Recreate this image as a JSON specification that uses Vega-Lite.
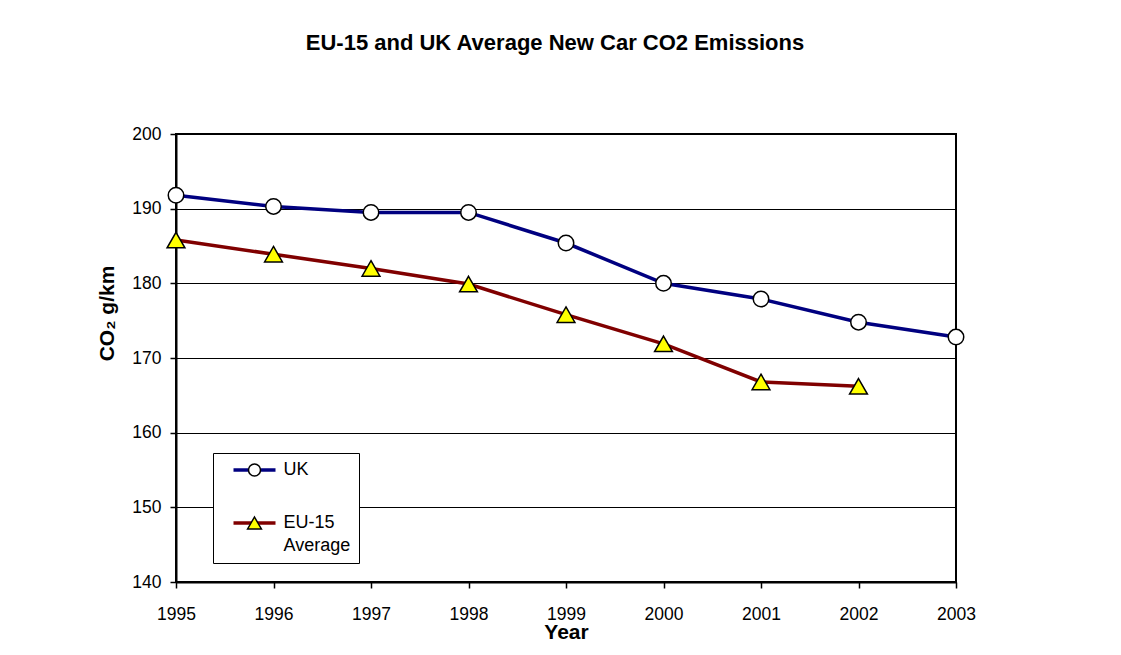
{
  "$schema": "https://vega.github.io/schema/vega-lite/v6.json",
  "autosize": {"type": "none"},
  "width": 780,
  "height": 448,
  "padding": {"left": 176, "top": 134, "right": 165, "bottom": 73},
  "background": "white",
  "config": {
    "font": "Liberation Sans",
    "view": {"stroke": "black", "strokeWidth": 2},
    "axis": {
      "domainColor": "black", "domainWidth": 2,
      "tickColor": "black", "tickWidth": 1.5, "tickSize": 6,
      "labelColor": "black", "labelFont": "Liberation Sans", "labelFontSize": 17.5,
      "titleColor": "black", "titleFont": "Liberation Sans", "titleFontSize": 21, "titleFontWeight": "bold"
    },
    "legend": {"labelFont": "Liberation Sans", "labelColor": "black"}
  },
  "title": {
    "text": "EU-15 and UK Average New Car CO2 Emissions",
    "font": "Liberation Sans", "fontSize": 22, "fontWeight": "bold", "color": "black",
    "anchor": "middle", "frame": "group", "baseline": "alphabetic", "offset": 53, "dx": -11
  },
  "data": {
    "values": [
      {"year": 1995, "co2": 191.8, "series": "UK"},
      {"year": 1996, "co2": 190.3, "series": "UK"},
      {"year": 1997, "co2": 189.5, "series": "UK"},
      {"year": 1998, "co2": 189.5, "series": "UK"},
      {"year": 1999, "co2": 185.4, "series": "UK"},
      {"year": 2000, "co2": 180.0, "series": "UK"},
      {"year": 2001, "co2": 177.9, "series": "UK"},
      {"year": 2002, "co2": 174.8, "series": "UK"},
      {"year": 2003, "co2": 172.8, "series": "UK"},
      {"year": 1995, "co2": 185.8, "series": "EU-15 Average"},
      {"year": 1996, "co2": 183.9, "series": "EU-15 Average"},
      {"year": 1997, "co2": 182.0, "series": "EU-15 Average"},
      {"year": 1998, "co2": 179.9, "series": "EU-15 Average"},
      {"year": 1999, "co2": 175.8, "series": "EU-15 Average"},
      {"year": 2000, "co2": 171.9, "series": "EU-15 Average"},
      {"year": 2001, "co2": 166.8, "series": "EU-15 Average"},
      {"year": 2002, "co2": 166.2, "series": "EU-15 Average"}
    ]
  },
  "encoding": {
    "x": {
      "field": "year", "type": "quantitative",
      "scale": {"domain": [1995, 2003], "nice": false, "zero": false},
      "axis": {
        "values": [1995, 1996, 1997, 1998, 1999, 2000, 2001, 2002, 2003],
        "format": "d", "grid": false, "labelPadding": 17.5, "labelFlush": false,
        "title": "Year", "titleBaseline": "alphabetic", "titleY": 56
      }
    },
    "y": {
      "field": "co2", "type": "quantitative",
      "scale": {"domain": [140, 200], "nice": false, "zero": false},
      "axis": {
        "values": [140, 150, 160, 170, 180, 190, 200],
        "grid": true, "gridColor": "black", "gridWidth": 1, "gridOpacity": 1,
        "labelPadding": 9,
        "title": "CO₂ g/km", "titleAngle": 270, "titleBaseline": "alphabetic", "titleAlign": "center",
        "titleX": -63, "titleY": 179
      }
    }
  },
  "layer": [
    {
      "mark": {"type": "line", "strokeWidth": 3.5},
      "encoding": {
        "color": {
          "field": "series", "type": "nominal", "sort": "descending",
          "scale": {"range": ["#000080", "#800000"]},
          "legend": {
            "orient": "none", "legendX": 37, "legendY": 319, "title": null,
            "symbolType": "M-3,0L3,0", "symbolSize": 196, "symbolStrokeWidth": 3.5,
            "labelFontSize": 18, "labelExpr": "datum.value == 'UK' ? 'UK' : ['EU-15', 'Average']",
            "padding": 8, "strokeColor": "black", "fillColor": "white",
            "rowPadding": 35, "symbolOffset": 24.5, "labelOffset": 20,
            "encode": {"labels": {"update": {"lineHeight": {"value": 23}}}}
          }
        }
      }
    },
    {
      "mark": {"type": "point", "filled": true, "stroke": "black", "strokeWidth": 1.5, "opacity": 1, "size": 240},
      "encoding": {
        "shape": {
          "field": "series", "type": "nominal",
          "scale": {"domain": ["UK", "EU-15 Average"], "range": ["circle", "M0,-1L1.15,1L-1.15,1Z"]},
          "legend": {
            "orient": "none", "legendX": 37, "legendY": 319, "title": null,
            "symbolSize": 144, "symbolStrokeColor": "black", "symbolStrokeWidth": 1.5,
            "symbolFillColor": "white",
            "labelFontSize": 18, "labelExpr": "datum.value == 'UK' ? ' ' : [' ', ' ']",
            "padding": 8, "rowPadding": 35, "symbolOffset": 24.5, "labelOffset": 20,
            "encode": {
              "labels": {"update": {"lineHeight": {"value": 23}}},
              "symbols": {"update": {
                "fill": {"signal": "datum.value == 'UK' ? 'white' : '#FFFF00'"},
                "stroke": {"value": "black"},
                "strokeWidth": {"value": 1.5}
              }}
            }
          }
        },
        "fill": {
          "field": "series", "type": "nominal",
          "scale": {"domain": ["UK", "EU-15 Average"], "range": ["white", "#FFFF00"]},
          "legend": null
        }
      }
    }
  ]
}
